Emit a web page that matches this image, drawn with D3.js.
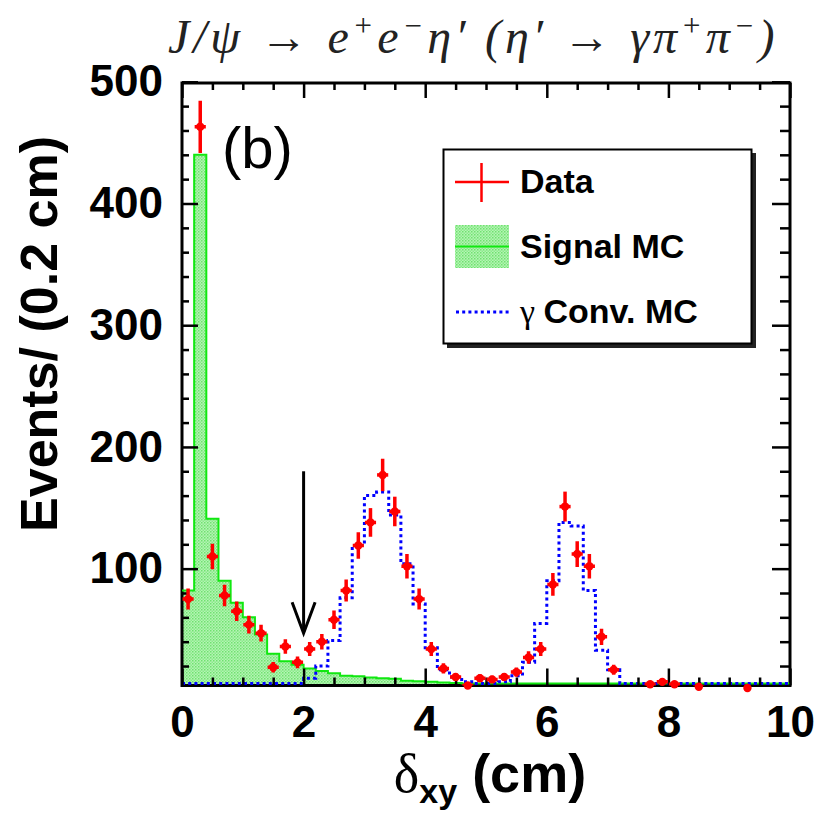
<!DOCTYPE html>
<html lang="en">
<head>
<meta charset="utf-8">
<script src="https://cdn.jsdelivr.net/npm/d3@7"></script>
<style>
  body { margin: 0; background: #fff; }
  svg text { font-family: "Liberation Sans", Arial, sans-serif; }
</style>
</head>
<body>
<div id="chart"></div>
<script>

// ---- data (events per 0.2 cm bin, 0..10 cm) ----
var binWidth = 0.2;
var dataCounts = [75, 463, 110, 78, 65, 54, 47, 19, 36, 23,
                  34, 40, 58, 82, 119, 138, 177, 147, 102, 75,
                  34, 18, 11, 4, 10, 9, 11, 15, 27, 34,
                  87, 151, 112, 102, 44, 17, 0, 0, 5, 7,
                  5, 0, 3, 0, 0, 0, 2, 0, 0, 0];
var signalMC = [82, 440, 141, 90, 72, 60, 46, 30, 24, 21,
                18, 16, 14, 12, 11.5, 10.5, 10, 9.5, 8, 7.5,
                7, 6.5, 6, 5, 4, 3, 3, 2, 2, 2,
                2, 2, 2, 2, 1, 1, 1, 1, 1, 1,
                1, 0, 0, 0, 0, 0, 0, 0, 0, 0];
var convMC = [0, 0, 0, 0, 0, 0, 0, 0, 0, 4,
              10, 20, 41, 76, 119, 160, 163, 144, 104, 71,
              35, 17, 11, 7, 5, 5, 7, 12, 23, 55,
              90, 138, 135, 82, 33, 17, 0, 0, 0, 0,
              0, 0, 0, 0, 0, 0, 0, 0, 0, 0];
var xMajor = [0, 2, 4, 6, 8, 10];
var yMajor = [100, 200, 300, 400, 500];
var cutValue = 2.0;          // arrow position (cm)
var arrowFrom = 180, arrowTo = 47;
var legendLabels = ["Data", "Signal MC", "Conv. MC"];

// ---- layout ----
var W = 823, H = 817;
var plotL = 182, plotR = 790, plotT = 83, plotB = 685.5;
var yMin = 4, yMax = 499;

var svg = d3.select("#chart").append("svg")
  .attr("width", W).attr("height", H);

var x = d3.scaleLinear().domain([0, 10]).range([plotL, plotR]);
var y = d3.scaleLinear().domain([yMin, yMax]).range([plotB, plotT]);
// clamp into the frame, keeping empty bins just above the bottom line
function yc(v) { return Math.min(y(Math.min(yMax, v)), plotB - 2); }

// fill pattern for signal MC (dotted green)
var defs = svg.append("defs");
var pat = defs.append("pattern").attr("id", "dots")
  .attr("width", 3).attr("height", 3).attr("patternUnits", "userSpaceOnUse");
pat.append("rect").attr("width", 3).attr("height", 3).attr("fill", "#b4f4b4");
pat.append("rect").attr("width", 1.5).attr("height", 1.5).attr("fill", "#6fe26f");
pat.append("rect").attr("x", 1.5).attr("y", 1.5).attr("width", 1.5).attr("height", 1.5).attr("fill", "#8aea8a");
defs.append("clipPath").attr("id", "frameclip").append("rect")
  .attr("x", plotL).attr("y", plotT).attr("width", plotR - plotL).attr("height", plotB - plotT);

// step points for a histogram
function steps(vals) {
  var pts = [];
  vals.forEach(function (v, i) {
    pts.push([i * binWidth, v]);
    pts.push([(i + 1) * binWidth, v]);
  });
  return pts;
}
var line = d3.line().x(d => x(d[0])).y(d => yc(d[1]));
var area = d3.area().x(d => x(d[0])).y0(plotB).y1(d => yc(d[1]));

// signal MC fill
svg.append("path").attr("d", area(steps(signalMC)))
  .attr("clip-path", "url(#frameclip)")
  .attr("fill", "url(#dots)").attr("stroke", "none");

// frame
svg.append("rect").attr("x", plotL).attr("y", plotT)
  .attr("width", plotR - plotL).attr("height", plotB - plotT)
  .attr("fill", "none").attr("stroke", "#000").attr("stroke-width", 3);

var plot = svg.append("g").attr("clip-path", "url(#frameclip)");
plot.append("path").attr("d", line(steps(signalMC)))
  .attr("fill", "none").attr("stroke", "#10e810").attr("stroke-width", 2);

// gamma conversion MC
plot.append("path").attr("d", line(steps(convMC)))
  .attr("fill", "none").attr("stroke", "#0000ff").attr("stroke-width", 3)
  .attr("stroke-dasharray", "3,3.2");

// ticks
function styleAxis(g) {
  g.select(".domain").remove();
  g.selectAll("line").attr("stroke", "#000").attr("stroke-width", 2.5);
  g.selectAll("text").attr("fill", "#000")
    .style("font-family", "'Liberation Sans', Arial, sans-serif")
    .style("font-weight", "bold").style("font-size", "44px");
}
var xMinor = d3.range(0, 10.01, 0.5).filter(v => xMajor.indexOf(v) < 0);
var yMinor = d3.range(20, 500, 20).filter(v => yMajor.indexOf(v) < 0);

svg.append("g").attr("transform", "translate(0," + plotB + ")")
  .call(d3.axisBottom(x).tickValues(xMajor).tickSize(-17).tickPadding(20).tickFormat(d3.format("d")))
  .call(styleAxis);
svg.append("g").attr("transform", "translate(0," + plotB + ")")
  .call(d3.axisBottom(x).tickValues(xMinor).tickSize(-8).tickFormat(""))
  .call(styleAxis);
svg.append("g").attr("transform", "translate(0," + plotT + ")")
  .call(d3.axisTop(x).tickValues(xMajor).tickSize(-15).tickFormat(""))
  .call(styleAxis);
svg.append("g").attr("transform", "translate(0," + plotT + ")")
  .call(d3.axisTop(x).tickValues(xMinor).tickSize(-7).tickFormat(""))
  .call(styleAxis);

svg.append("g").attr("transform", "translate(" + plotL + ",0)")
  .call(d3.axisLeft(y).tickValues(yMajor).tickSize(-16).tickPadding(19).tickFormat(d3.format("d")))
  .call(styleAxis);
svg.append("g").attr("transform", "translate(" + plotL + ",0)")
  .call(d3.axisLeft(y).tickValues(yMinor).tickSize(-7).tickFormat(""))
  .call(styleAxis);
svg.append("g").attr("transform", "translate(" + plotR + ",0)")
  .call(d3.axisRight(y).tickValues(yMajor).tickSize(-18).tickFormat(""))
  .call(styleAxis);
svg.append("g").attr("transform", "translate(" + plotR + ",0)")
  .call(d3.axisRight(y).tickValues(yMinor).tickSize(-10).tickFormat(""))
  .call(styleAxis);

// data points with error bars
var pts = dataCounts.map((v, i) => ({ lo: i * binWidth, hi: (i + 1) * binWidth, v: v }))
  .filter(d => d.v > 0);
var dataG = svg.append("g");
dataG.append("g").attr("clip-path", "url(#frameclip)").selectAll("line")
  .data(pts).enter().append("line")
  .attr("x1", d => x(d.lo) + 0.5).attr("x2", d => x(d.hi) - 0.5)
  .attr("y1", d => y(d.v)).attr("y2", d => y(d.v))
  .attr("stroke", "#ff0000").attr("stroke-width", 3.5);
dataG.append("g").attr("clip-path", "url(#frameclip)").selectAll("line")
  .data(pts).enter().append("line")
  .attr("x1", d => x((d.lo + d.hi) / 2)).attr("x2", d => x((d.lo + d.hi) / 2))
  .attr("y1", d => y(d.v + Math.sqrt(d.v))).attr("y2", d => y(d.v - Math.sqrt(d.v)))
  .attr("stroke", "#ff0000").attr("stroke-width", 3.5);
dataG.selectAll("circle")
  .data(pts).enter().append("circle")
  .attr("cx", d => x((d.lo + d.hi) / 2)).attr("cy", d => y(d.v))
  .attr("r", 4.2).attr("fill", "#ff0000");

// cut arrow
var ax = x(cutValue);
svg.append("line").attr("x1", ax).attr("x2", ax)
  .attr("y1", y(arrowFrom)).attr("y2", y(arrowTo) - 1)
  .attr("stroke", "#000").attr("stroke-width", 3);
svg.append("path")
  .attr("d", "M" + (ax - 11.5) + "," + (y(arrowTo) - 31) + "L" + ax + "," + y(arrowTo) +
    "L" + (ax + 11.5) + "," + (y(arrowTo) - 31))
  .attr("fill", "none").attr("stroke", "#000").attr("stroke-width", 3);

// (b)
svg.append("text").attr("x", 222).attr("y", 168)
  .style("font-size", "58px").text("(b)");

// legend
var lg = svg.append("g");
lg.append("rect").attr("x", 447).attr("y", 153).attr("width", 309).attr("height", 195)
  .attr("fill", "#222");
lg.append("rect").attr("x", 443.5).attr("y", 149.5).attr("width", 308).attr("height", 194)
  .attr("fill", "#fff").attr("stroke", "#000").attr("stroke-width", 2);
var rowY = [182, 246.5, 312];
// data entry
lg.append("line").attr("x1", 455).attr("x2", 509).attr("y1", rowY[0]).attr("y2", rowY[0])
  .attr("stroke", "#ff0000").attr("stroke-width", 2.5);
lg.append("line").attr("x1", 481.5).attr("x2", 481.5).attr("y1", rowY[0] - 19).attr("y2", rowY[0] + 20)
  .attr("stroke", "#ff0000").attr("stroke-width", 2.5);
// signal entry
lg.append("rect").attr("x", 455).attr("y", rowY[1] - 21.5).attr("width", 54).attr("height", 43)
  .attr("fill", "url(#dots)");
lg.append("line").attr("x1", 455).attr("x2", 509).attr("y1", rowY[1]).attr("y2", rowY[1])
  .attr("stroke", "#10e810").attr("stroke-width", 2);
// conversion entry
lg.append("line").attr("x1", 456).attr("x2", 509).attr("y1", rowY[2]).attr("y2", rowY[2])
  .attr("stroke", "#0000ff").attr("stroke-width", 3).attr("stroke-dasharray", "3,3.2");

lg.append("text").attr("x", 520).attr("y", rowY[0] + 11)
  .style("font-size", "34px").style("font-weight", "bold").text(legendLabels[0]);
lg.append("text").attr("x", 520).attr("y", rowY[1] + 11)
  .style("font-size", "34px").style("font-weight", "bold").text(legendLabels[1]);
var t3 = lg.append("text").attr("x", 520).attr("y", rowY[2] + 11).style("font-size", "34px");
t3.append("tspan").style("font-family", "'Liberation Serif', serif").text("\u03b3 ");
t3.append("tspan").style("font-weight", "bold").text(legendLabels[2]);

// axis titles
svg.append("text")
  .attr("transform", "translate(57,334) rotate(-90)")
  .attr("text-anchor", "middle")
  .style("font-size", "52px").style("font-weight", "bold")
  .text("Events/ (0.2 cm)");

var xt = svg.append("text").attr("x", 490).attr("y", 792).attr("text-anchor", "middle")
  .style("font-size", "54px");
xt.append("tspan").style("font-family", "'Liberation Serif', serif").text("\u03b4");
xt.append("tspan").style("font-weight", "bold").style("font-size", "34px")
  .attr("dy", 11).text("xy");
xt.append("tspan").style("font-weight", "bold").attr("dy", -11).text(" (cm)");

// title: [text, raised?]
var titleParts = [["J/\u03c8 \u2192 e", 0], ["+", 1], ["e", 0], ["\u2212", 1],
  ["\u03b7\u2032  (\u03b7\u2032 \u2192 \u03b3\u03c0", 0], ["+", 1], ["\u03c0", 0], ["\u2212", 1], [")", 0]];
var tt = svg.append("text").attr("x", 168).attr("y", 53)
  .style("font-family", "'Liberation Serif', serif").style("font-style", "italic")
  .style("font-size", "48px").attr("fill", "#222");
var lift = 0, nChars = 0;
titleParts.forEach(function (p) {
  var want = p[1] ? -17 : 0;
  tt.append("tspan").attr("dy", want - lift)
    .style("font-size", p[1] ? "31px" : "48px").text(p[0]);
  lift = want;
  nChars += p[0].length;
});
// spread the title to the width it has in the original figure
var natural = tt.node().getComputedTextLength();
tt.style("letter-spacing", Math.max(0, (782 - 168 - natural) / nChars) + "px");

</script>
</body>
</html>
